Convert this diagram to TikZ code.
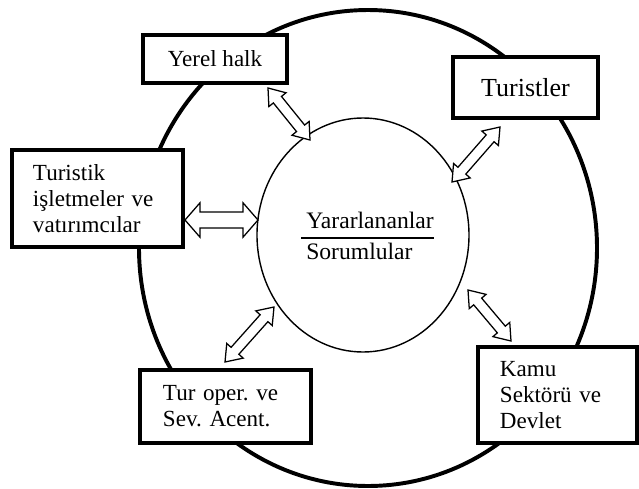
\documentclass[tikz,border=0pt]{standalone}
\usepackage{fontspec}
\setmainfont{Liberation Serif}
\frenchspacing
\usetikzlibrary{calc}

% block arrow with two heads: from, to, head length, half head width, half shaft width
\newcommand{\blockarrow}[5]{%
  \coordinate (ha) at ($(#1)!#3!(#2)$);
  \coordinate (hb) at ($(#2)!#3!(#1)$);
  \draw[dblarrow] (#1) -- ($(ha)!#4!90:(#2)$) -- ($(ha)!#5!90:(#2)$) -- ($(hb)!#5!-90:(#1)$) -- ($(hb)!#4!-90:(#1)$)
    -- (#2) -- ($(hb)!#4!90:(#1)$) -- ($(hb)!#5!90:(#1)$) -- ($(ha)!#5!-90:(#2)$) -- ($(ha)!#4!-90:(#2)$) -- cycle;
}

\begin{document}
\begin{tikzpicture}[x=0.025cm,y=-0.025cm,
    box/.style={rectangle,draw=black,line width=2.4pt,fill=white,inner sep=0pt,font=\fontsize{16.4}{18.5}\selectfont},
    dblarrow/.style={draw=black,line width=0.9pt,fill=white,line join=miter}]
      \useasboundingbox (0,0) rectangle (639,488);
      % outer and inner circle
      \draw[line width=2.8pt] (368,248) ellipse [x radius=229, y radius=238];
      \draw[line width=1pt] (363,235) ellipse [x radius=106, y radius=117];
      \node[font=\fontsize{16.8}{21}\selectfont,inner sep=0pt] (mid) at (367.5,238) {\setlength{\arrayrulewidth}{1.3pt}\begin{tabular}{@{\hspace{0.125cm}}l@{}}Yararlananlar\\\hline Sorumlular\end{tabular}};

      % main modules
      \node[box,minimum width=3.6cm,minimum height=1.2cm] (yerel) at (215,59) {Yerel halk};
      \node[box,minimum width=3.625cm,minimum height=1.525cm,font=\fontsize{18.5}{21}\selectfont] (turist) at (525.5,87.5) {Turistler};
      \node[box,minimum width=4.275cm,minimum height=2.425cm,text width=3.225cm,align=left] (isletme) at (97.5,198.5) {Turistik\\işletmeler ve\\vatırımcılar};
      \node[box,minimum width=4.275cm,minimum height=1.825cm,text width=3.125cm,align=left] (tur) at (225.5,406.5) {Tur oper. ve\\Sev. Acent.};
      \node[box,minimum width=3.975cm,minimum height=2.4cm,text width=2.875cm,align=left] (kamu) at (557.5,395) {Kamu\\Sektörü ve\\Devlet};

      % arrows
      \coordinate (y1) at (268,88);  \coordinate (y2) at (310,140);
      \coordinate (t1) at (500,127); \coordinate (t2) at (452,182);
      \coordinate (i1) at (185,220); \coordinate (i2) at (258,220);
      \coordinate (o1) at (225,362); \coordinate (o2) at (274,307);
      \coordinate (k1) at (468,290); \coordinate (k2) at (511,341);
      \foreach \a/\b in {y1/y2,t1/t2,o1/o2,k1/k2}
        {\blockarrow{\a}{\b}{0.375cm}{0.275cm}{0.13cm}}
      \blockarrow{i1}{i2}{0.375cm}{0.43cm}{0.2cm}
\end{tikzpicture}
\end{document}
